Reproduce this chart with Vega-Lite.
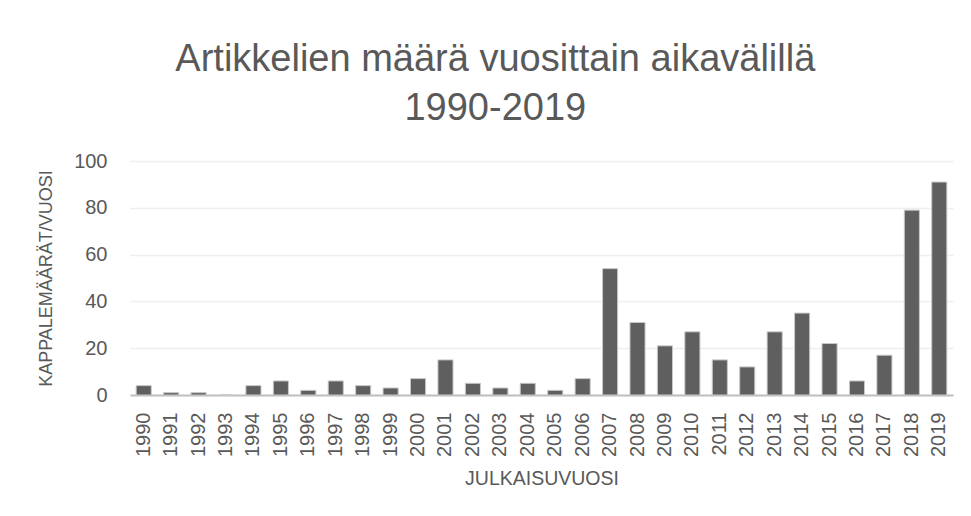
{
  "$schema": "https://vega.github.io/schema/vega-lite/v6.json",
  "width": 823,
  "height": 234,
  "autosize": {"type": "none"},
  "padding": {"left": 130, "top": 161, "right": 18, "bottom": 121},
  "background": "white",
  "title": {
    "text": ["Artikkelien määrä vuosittain aikavälillä", "1990-2019"],
    "anchor": "middle",
    "frame": "bounds",
    "font": "Liberation Sans",
    "fontSize": 38,
    "fontWeight": "normal",
    "color": "#595959",
    "lineHeight": 49,
    "offset": 23
  },
  "data": {
    "values": [
      {"vuosi": "1990", "maara": 4},
      {"vuosi": "1991", "maara": 1},
      {"vuosi": "1992", "maara": 1},
      {"vuosi": "1993", "maara": 0},
      {"vuosi": "1994", "maara": 4},
      {"vuosi": "1995", "maara": 6},
      {"vuosi": "1996", "maara": 2},
      {"vuosi": "1997", "maara": 6},
      {"vuosi": "1998", "maara": 4},
      {"vuosi": "1999", "maara": 3},
      {"vuosi": "2000", "maara": 7},
      {"vuosi": "2001", "maara": 15},
      {"vuosi": "2002", "maara": 5},
      {"vuosi": "2003", "maara": 3},
      {"vuosi": "2004", "maara": 5},
      {"vuosi": "2005", "maara": 2},
      {"vuosi": "2006", "maara": 7},
      {"vuosi": "2007", "maara": 54},
      {"vuosi": "2008", "maara": 31},
      {"vuosi": "2009", "maara": 21},
      {"vuosi": "2010", "maara": 27},
      {"vuosi": "2011", "maara": 15},
      {"vuosi": "2012", "maara": 12},
      {"vuosi": "2013", "maara": 27},
      {"vuosi": "2014", "maara": 35},
      {"vuosi": "2015", "maara": 22},
      {"vuosi": "2016", "maara": 6},
      {"vuosi": "2017", "maara": 17},
      {"vuosi": "2018", "maara": 79},
      {"vuosi": "2019", "maara": 91}
    ]
  },
  "mark": {"type": "bar", "color": "#5f5f5f", "stroke": "#c8c8c8", "strokeWidth": 1},
  "encoding": {
    "x": {
      "field": "vuosi",
      "type": "ordinal",
      "sort": null,
      "scale": {"paddingInner": 0.45, "paddingOuter": 0.225},
      "axis": {
        "title": "JULKAISUVUOSI",
        "labelAngle": -90,
        "labelAlign": "right",
        "labelBaseline": "middle",
        "labelPadding": 17,
        "labelFontSize": 20,
        "labelColor": "#595959",
        "labelFont": "Liberation Sans",
        "ticks": false,
        "domainColor": "#bfbfbf",
        "domainWidth": 2,
        "titleFont": "Liberation Sans",
        "titleFontSize": 19.5,
        "titleFontWeight": "normal",
        "titleColor": "#595959",
        "titlePadding": 13
      }
    },
    "y": {
      "field": "maara",
      "type": "quantitative",
      "scale": {"domain": [0, 100]},
      "axis": {
        "title": "KAPPALEMÄÄRÄT/VUOSI",
        "values": [0, 20, 40, 60, 80, 100],
        "domain": false,
        "ticks": false,
        "labelPadding": 23,
        "labelFontSize": 20,
        "labelColor": "#595959",
        "labelFont": "Liberation Sans",
        "gridColor": "#efefef",
        "gridWidth": 1.5,
        "titleFont": "Liberation Sans",
        "titleFontSize": 18,
        "titleFontWeight": "normal",
        "titleColor": "#595959",
        "titlePadding": 18
      }
    }
  },
  "config": {"view": {"stroke": null}}
}
